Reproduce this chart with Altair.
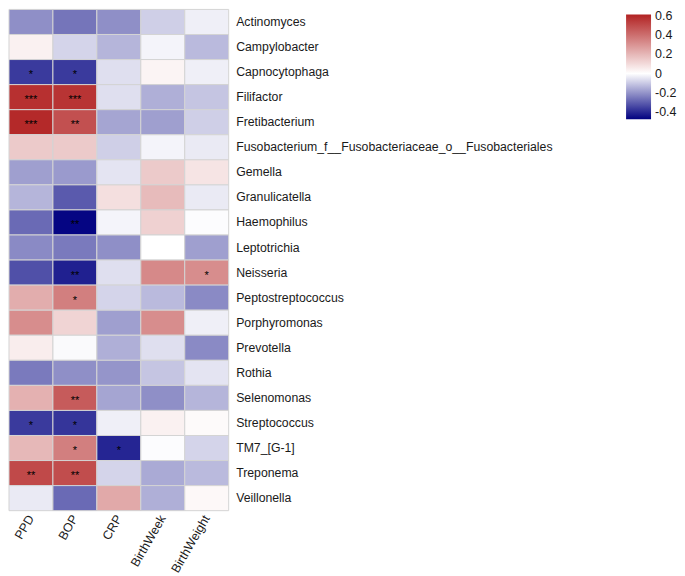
import altair as alt
import pandas as pd

taxa = ["Actinomyces", "Campylobacter", "Capnocytophaga", "Filifactor", "Fretibacterium",
        "Fusobacterium_f__Fusobacteriaceae_o__Fusobacteriales", "Gemella", "Granulicatella",
        "Haemophilus", "Leptotrichia", "Neisseria", "Peptostreptococcus", "Porphyromonas",
        "Prevotella", "Rothia", "Selenomonas", "Streptococcus", "TM7_[G-1]", "Treponema",
        "Veillonella"]
variables = ["PPD", "BOP", "CRP", "BirthWeek", "BirthWeight"]

ppd = [-0.21, 0.04, -0.37, 0.58, 0.60, 0.15, -0.18, -0.14, -0.28, -0.22,
       -0.33, 0.23, 0.32, 0.05, -0.25, 0.22, -0.37, 0.20, 0.51, -0.04]
bop = [-0.26, -0.08, -0.37, 0.57, 0.49, 0.15, -0.19, -0.31, -0.47, -0.25,
       -0.42, 0.36, 0.12, -0.01, -0.21, 0.46, -0.38, 0.36, 0.50, -0.28]
crp = [-0.21, -0.14, -0.06, -0.06, -0.17, -0.09, -0.05, 0.09, -0.02, -0.21,
       -0.06, -0.08, -0.18, -0.15, -0.20, -0.17, -0.03, -0.41, -0.08, 0.24]
birthweek = [-0.09, -0.02, 0.03, -0.15, -0.18, -0.02, 0.15, 0.19, 0.13, 0.0,
             0.33, -0.13, 0.32, -0.06, -0.11, -0.21, 0.04, -0.005, -0.16, -0.15]
birthweight = [-0.03, -0.13, -0.03, -0.11, -0.09, -0.04, 0.075, -0.04, -0.005, -0.18,
               0.32, -0.22, -0.03, -0.22, -0.05, -0.14, 0.015, -0.08, -0.13, 0.02]

stars_ppd = ["", "", "*", "***", "***", "", "", "", "", "", "", "", "", "", "", "", "*", "", "**", ""]
stars_bop = ["", "", "*", "***", "**", "", "", "", "**", "", "**", "*", "", "", "", "**", "*", "*", "**", ""]
stars_crp = ["", "", "", "", "", "", "", "", "", "", "", "", "", "", "", "", "", "*", "", ""]
stars_bweek = [""] * 20
stars_bweight = ["", "", "", "", "", "", "", "", "", "", "*", "", "", "", "", "", "", "", "", ""]

legend_values = [-0.4, -0.2, 0, 0.2, 0.4, 0.6]

cols = {
    "PPD": (ppd, stars_ppd),
    "BOP": (bop, stars_bop),
    "CRP": (crp, stars_crp),
    "BirthWeek": (birthweek, stars_bweek),
    "BirthWeight": (birthweight, stars_bweight),
}
rows = []
for var in variables:
    vals, st = cols[var]
    for t, v, s in zip(taxa, vals, st):
        rows.append({"taxon": t, "var": var, "r": v, "sig": s})
df = pd.DataFrame(rows)

FONT = "Liberation Sans"
TXT = "#1a1a1a"

x = alt.X("var:N", sort=variables, title=None,
          axis=alt.Axis(labelAngle=300, labelAlign="right", labelBaseline="middle",
                        ticks=False, domain=False, labelPadding=5, labelFontSize=12.5,
                        labelColor=TXT, labelFont=FONT))
y = alt.Y("taxon:N", sort=taxa, title=None,
          axis=alt.Axis(orient="right", ticks=False, domain=False, labelPadding=7,
                        labelFontSize=12.3, labelColor=TXT, labelFont=FONT,
                        labelLimit=400))

rect = alt.Chart(df).mark_rect(stroke="#d4d4d4", strokeWidth=1).encode(
    x=x, y=y,
    color=alt.Color("r:Q",
                    scale=alt.Scale(domain=[-0.48, 0, 0.62],
                                    range=["#000080", "#ffffff", "#b22222"],
                                    interpolate="rgb"),
                    legend=alt.Legend(title=None, orient="none", legendX=618, legendY=5,
                                      direction="vertical", gradientLength=105,
                                      gradientThickness=25, gradientStrokeWidth=0,
                                      values=legend_values,
                                      format=".1~f",
                                      labelExpr="replace(datum.label, '\u2212', '-')",
                                      labelFontSize=12.5,
                                      labelFont=FONT, labelColor=TXT,
                                      labelOffset=4))
)

text = alt.Chart(df).mark_text(fontSize=11, color="black", dy=3,
                               font=FONT).encode(
    x=alt.X("var:N", sort=variables),
    y=alt.Y("taxon:N", sort=taxa),
    text="sig:N",
)

chart = (rect + text).properties(width=220, height=502, padding=0).configure_view(stroke=None)
chart.save("out.html", embed_options={"renderer": "svg", "actions": False})
